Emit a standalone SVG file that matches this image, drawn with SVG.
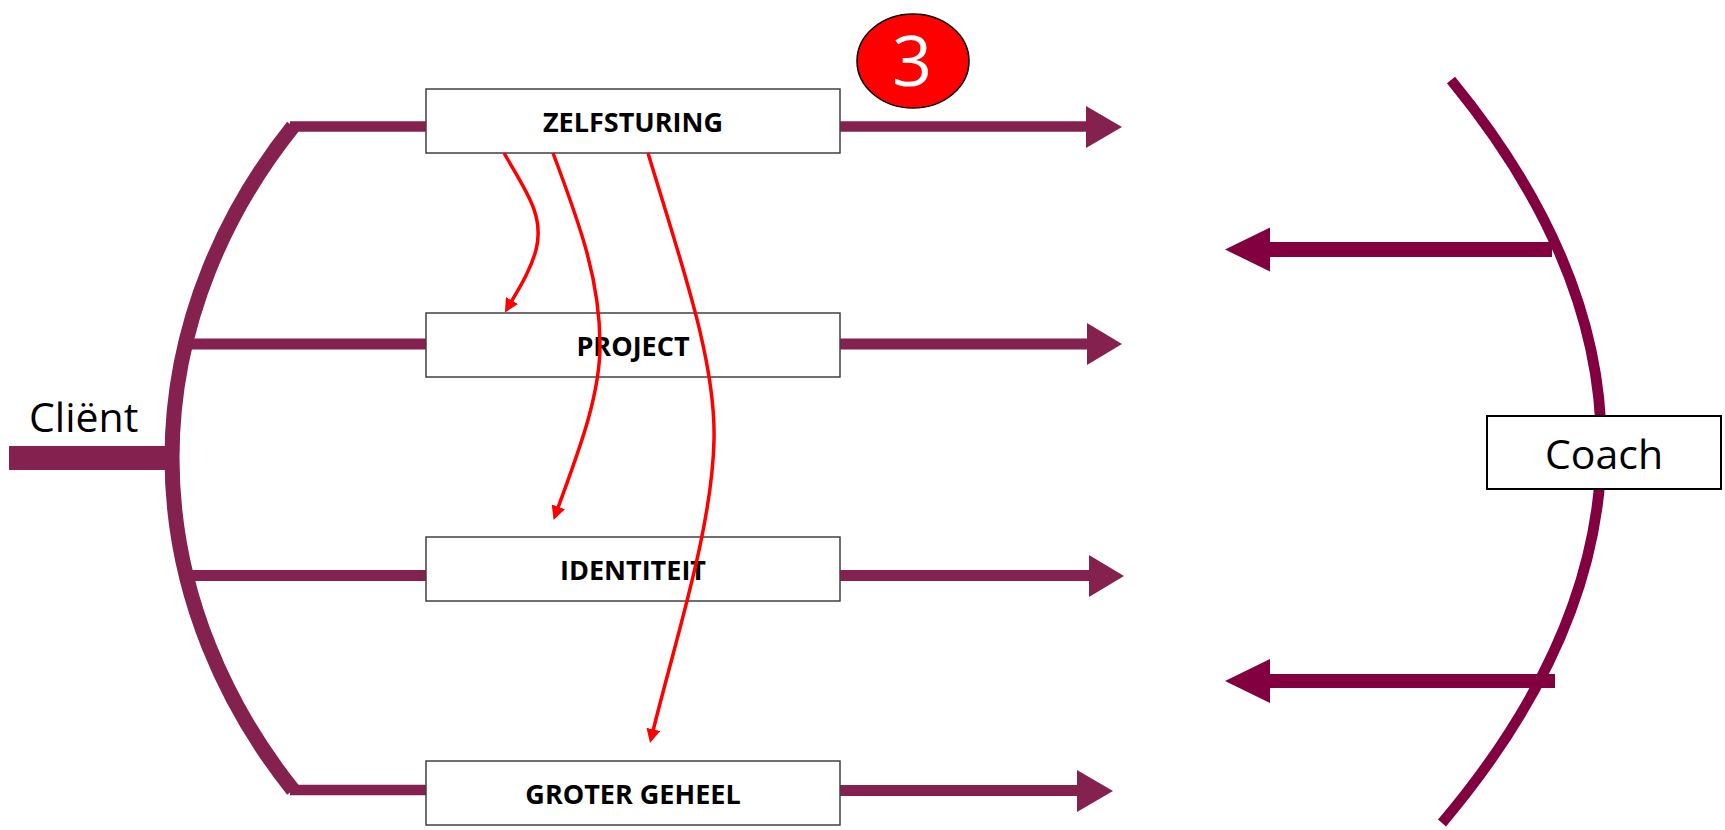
<svg xmlns="http://www.w3.org/2000/svg" width="1725" height="830" viewBox="0 0 1725 830">
<style>
.lp{stroke:#84214F;fill:none}
.lf{fill:#84214F}
.rp{stroke:#82003F;fill:none}
.rf{fill:#82003F}
.box{fill:#FFFFFF;stroke:#404040;stroke-width:1.5}
.lbl{font-family:"Open Sans","Noto Sans","Liberation Sans",sans-serif;font-weight:bold;font-size:27px;fill:#000;text-anchor:middle}
.big{font-family:"Open Sans","Noto Sans","Liberation Sans",sans-serif;font-size:41px;fill:#000}
.red{stroke:#FF0000;stroke-width:3.5;fill:none;marker-end:url(#ah)}
</style>
<defs>
<marker id="ah" viewBox="0 0 10 10" refX="7" refY="5" markerUnits="userSpaceOnUse" markerWidth="14" markerHeight="14" orient="auto">
<path d="M0,0 L10,5 L0,10 z" fill="#FF0000"/>
</marker>
</defs>
<rect width="1725" height="830" fill="#FFFFFF"/>
<g id="client">
<rect class="lf" x="9" y="446" width="162" height="24"/>
<path class="lp" stroke-width="15" d="M293,126.5 C230,205 172,320 172,458 C172,596 230,711 293,790"/>
<text class="big" x="29" y="432">Cliënt</text>
</g>
<g id="branches-left">
<line class="lp" stroke-width="10.5" x1="290" y1="126.5" x2="426" y2="126.5"/>
<line class="lp" stroke-width="11" x1="185" y1="344" x2="426" y2="344"/>
<line class="lp" stroke-width="11" x1="185" y1="575.5" x2="426" y2="575.5"/>
<line class="lp" stroke-width="10.5" x1="290" y1="790" x2="426" y2="790"/>
</g>
<g id="arrows-right">
<line class="lp" stroke-width="10.5" x1="840" y1="126.5" x2="1088" y2="126.5"/>
<polygon class="lf" points="1086,106 1122,127 1086,148"/>
<line class="lp" stroke-width="11" x1="840" y1="344" x2="1089" y2="344"/>
<polygon class="lf" points="1087,323 1122,344 1087,365"/>
<line class="lp" stroke-width="11" x1="840" y1="575.5" x2="1091" y2="575.5"/>
<polygon class="lf" points="1089,555 1124,576 1089,597"/>
<line class="lp" stroke-width="11" x1="840" y1="790.5" x2="1079" y2="790.5"/>
<polygon class="lf" points="1077,770 1113,791 1077,812"/>
</g>
<g id="coach-side">
<path class="rp" stroke-width="10.5" d="M1451,80 Q1756,451 1442,823"/>
<rect class="rf" x="1266" y="242" width="286" height="15"/>
<polygon class="rf" points="1225,249.5 1270,227.5 1270,271.5"/>
<rect class="rf" x="1266" y="674" width="289" height="14"/>
<polygon class="rf" points="1225,681 1270,659 1270,703"/>
</g>
<g id="coach">
<rect x="1487" y="416" width="234" height="73" fill="#FFFFFF" stroke="#000" stroke-width="2"/>
<text class="big" x="1604" y="469" text-anchor="middle">Coach</text>
</g>
<g id="zelfsturing">
<rect class="box" x="426" y="89" width="414" height="64"/>
<text class="lbl" x="633" y="131.5">ZELFSTURING</text>
</g>
<g id="project">
<rect class="box" x="426" y="313" width="414" height="64"/>
<text class="lbl" x="633" y="356">PROJECT</text>
</g>
<g id="identiteit">
<rect class="box" x="426" y="537" width="414" height="64"/>
<text class="lbl" x="633" y="580">IDENTITEIT</text>
</g>
<g id="groter-geheel">
<rect class="box" x="426" y="761" width="414" height="64"/>
<text class="lbl" x="633" y="804">GROTER GEHEEL</text>
</g>
<g id="badge">
<ellipse cx="913" cy="61" rx="56" ry="47" fill="#FF0000" stroke="#000" stroke-width="1.5"/>
<text x="912" y="86" text-anchor="middle" font-family="Open Sans, Noto Sans, Liberation Sans, sans-serif" font-size="70" fill="#FFFFFF">3</text>
</g>
<g id="connectors">
<path class="red" d="M504,153 C525,190 545,215 536,250 C530,272 518,290 507,309"/>
<path class="red" d="M553,153 C580,225 600,280 600,345 C600,400 575,460 555,516"/>
<path class="red" d="M648,153 C680,260 716,360 714,440 C712,530 675,640 651,739"/>
</g>
</svg>
